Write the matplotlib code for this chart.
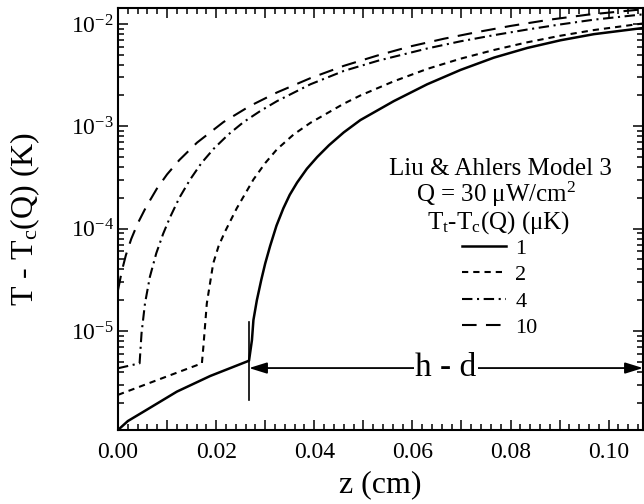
import numpy as np
import matplotlib
matplotlib.use('Agg')
import matplotlib.pyplot as plt
from matplotlib.ticker import MultipleLocator, FuncFormatter, LogLocator, NullFormatter

plt.rcParams['font.family'] = ['Liberation Serif', 'DejaVu Serif']
plt.rcParams['mathtext.fontset'] = 'custom'
plt.rcParams['mathtext.rm'] = 'Liberation Serif'
plt.rcParams['mathtext.it'] = 'Liberation Serif:italic'

# values: z in cm, T - Tc(Q) in K
z_1 = [0, 0.0020, 0.0052, 0.0120, 0.0188, 0.0267, 0.0273, 0.0276, 0.0283, 0.0292,
       0.0300, 0.0310, 0.0323, 0.0337, 0.0350, 0.0365, 0.0385, 0.0406, 0.0430,
       0.0460, 0.0494, 0.0562, 0.0630, 0.0698, 0.0766, 0.0834, 0.0902, 0.0970, 0.1070]
t_1 = [1.08e-6, 1.32e-6, 1.63e-6, 2.56e-6, 3.64e-6, 5.13e-6, 8.17e-6, 1.28e-5, 2.0e-5, 3.16e-5,
       4.57e-5, 6.76e-5, 1.07e-4, 1.58e-4, 2.14e-4, 2.82e-4, 3.85e-4, 5.01e-4, 6.53e-4,
       8.71e-4, 1.15e-3, 1.76e-3, 2.57e-3, 3.55e-3, 4.68e-3, 5.82e-3, 6.92e-3, 7.94e-3, 9.12e-3]

z_2 = [0, 0.0085, 0.0171, 0.0174, 0.0181, 0.0194, 0.0205, 0.0218, 0.0242, 0.0276,
       0.0300, 0.0324, 0.0358, 0.0392, 0.0460, 0.0494, 0.0562, 0.0630, 0.0698,
       0.0766, 0.0834, 0.0902, 0.0970, 0.1070]
t_2 = [2.38e-6, 3.39e-6, 4.84e-6, 7.03e-6, 1.86e-5, 4.57e-5, 6.76e-5, 9.33e-5, 1.58e-4, 3.02e-4,
       4.37e-4, 5.96e-4, 8.32e-4, 1.08e-3, 1.66e-3, 2.0e-3, 2.75e-3, 3.63e-3, 4.57e-3,
       5.56e-3, 6.61e-3, 7.67e-3, 8.71e-3, 1.01e-2]

z_4 = [0, 0.0044, 0.0048, 0.0055, 0.0065, 0.0078, 0.0092, 0.0106, 0.0125, 0.0147,
       0.0170, 0.0195, 0.0225, 0.0256, 0.0290, 0.0324, 0.0392, 0.0460, 0.0530,
       0.0630, 0.0698, 0.0766, 0.0834, 0.0902, 0.0970, 0.1070]
t_4 = [4.33e-6, 4.84e-6, 9.55e-6, 1.86e-5, 3.39e-5, 5.75e-5, 8.91e-5, 1.29e-4, 2.0e-4, 3.02e-4,
       4.37e-4, 6.03e-4, 8.32e-4, 1.10e-3, 1.41e-3, 1.76e-3, 2.57e-3, 3.47e-3, 4.37e-3,
       5.75e-3, 6.76e-3, 7.76e-3, 8.81e-3, 9.89e-3, 1.10e-2, 1.24e-2]

z_10 = [0, 0.0008, 0.0016, 0.0027, 0.0040, 0.0057, 0.0079, 0.0100, 0.0125, 0.0161,
        0.0215, 0.0269, 0.0324, 0.0392, 0.0460, 0.0528, 0.0596, 0.0664, 0.0732,
        0.0800, 0.0880, 0.0957, 0.1070]
t_10 = [2.51e-5, 3.89e-5, 5.50e-5, 7.94e-5, 1.12e-4, 1.62e-4, 2.45e-4, 3.39e-4, 4.68e-4, 6.92e-4,
        1.10e-3, 1.58e-3, 2.14e-3, 2.95e-3, 3.89e-3, 4.90e-3, 6.03e-3, 7.16e-3, 8.32e-3,
        9.55e-3, 1.10e-2, 1.23e-2, 1.39e-2]

labels = ['1', '2', '4', '10']

# h - d marker
z_kink = 0.0267
z_end = 0.107
t_arrow = 4.35e-6
bar_lo, bar_hi = 2.1e-6, 1.22e-5

fig = plt.figure(figsize=(6.44, 5.04), dpi=100)
ax = fig.add_axes([118/644, 1 - 430/504, 525/644, 422/504])

ax.plot(z_1, t_1, color='k', lw=1.8, label=labels[0])
ax.plot(z_2, t_2, color='k', lw=1.5, dashes=(3, 2.4), label=labels[1])
ax.plot(z_4, t_4, color='k', lw=1.5, dashes=(5, 2.2, 1, 2.2), label=labels[2])
ax.plot(z_10, t_10, color='k', lw=1.5, dashes=(7, 4.5), label=labels[3])

ax.set_yscale('log')
ax.set_xlim(0, 0.107)
ax.set_ylim(1.08e-6, 1.43e-2)

ax.xaxis.set_major_locator(MultipleLocator(0.01))
ax.xaxis.set_minor_locator(MultipleLocator(0.002))
ax.xaxis.set_major_formatter(FuncFormatter(
    lambda v, p: '%.2f' % v if abs(round(v / 0.02) * 0.02 - v) < 1e-6 else ''))
ax.yaxis.set_major_locator(LogLocator(base=10))
ax.yaxis.set_minor_locator(LogLocator(base=10, subs=np.arange(2, 10)))
ax.yaxis.set_minor_formatter(NullFormatter())

ax.tick_params(which='both', direction='in', top=True, right=True, width=1.1, labelsize=17)
ax.tick_params(which='major', length=7.5)
ax.tick_params(which='minor', length=4.5)
ax.tick_params(axis='x', pad=9)
ax.tick_params(axis='y', pad=3)
for s in ax.spines.values():
    s.set_linewidth(1.5)

ax.set_xlabel('z (cm)', fontsize=23, labelpad=5)
ax.set_ylabel(r'T - T$_{\rm c}$(Q) (K)', fontsize=23, labelpad=21)

# marker for the kink and the h - d span
ax.plot([z_kink, z_kink], [bar_lo, bar_hi], color='k', lw=1.2)
ax.annotate('', xy=(z_kink, t_arrow), xytext=(z_end, t_arrow),
            arrowprops=dict(arrowstyle='<|-|>,head_length=0.9,head_width=0.28',
                            mutation_scale=12, lw=1.3, color='k',
                            shrinkA=0, shrinkB=0))
ax.text((z_kink + z_end) / 2, t_arrow, 'h - d', fontsize=24, ha='center', va='center',
        bbox=dict(facecolor='white', edgecolor='none', pad=1))

ax.text(0.7276, 0.605, 'Liu & Ahlers Model 3', transform=ax.transAxes,
        fontsize=18, ha='center', va='baseline')
ax.text(0.7200, 0.540, r'Q = 30 μW/cm$^{2}$', transform=ax.transAxes,
        fontsize=18, ha='center', va='baseline')
ax.text(0.7257, 0.477, r'T$_{\rm t}$-T$_{\rm c}$(Q) (μK)', transform=ax.transAxes,
        fontsize=18, ha='center', va='baseline')

ax.legend(loc='upper left', bbox_to_anchor=(0.655, 0.455), frameon=False,
          fontsize=16, handlelength=2.0, handletextpad=0.4, labelspacing=0.27,
          borderpad=0, borderaxespad=0)

fig.savefig('out.png', dpi=100)
